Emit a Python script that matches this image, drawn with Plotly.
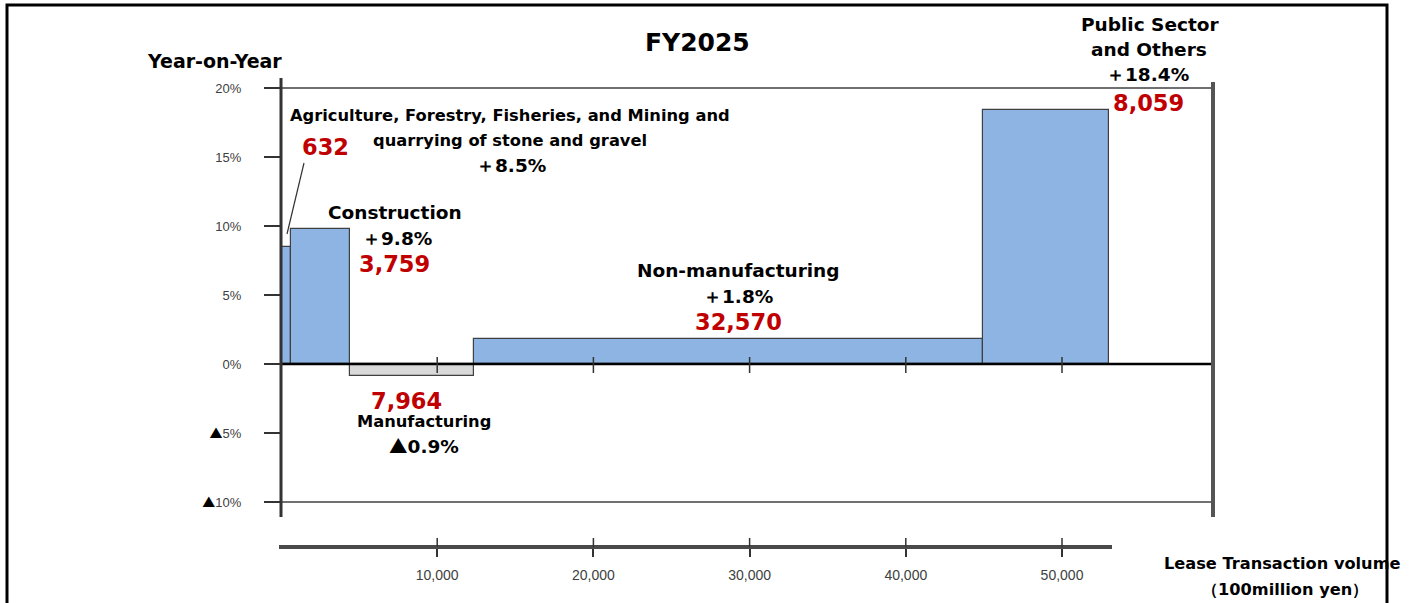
import plotly.graph_objects as go

# ---------------- data ----------------
categories = ["Agriculture, Forestry, Fisheries, and Mining and quarrying of stone and gravel",
              "Construction", "Manufacturing", "Non-manufacturing", "Public Sector and Others"]
volume = [632, 3759, 7964, 32570, 8059]          # 100 million yen
yoy = [8.5, 9.8, -0.9, 1.8, 18.4]                 # %
y_ticks = [20, 15, 10, 5, 0, -5, -10]
y_tick_labels = ["20%", "15%", "10%", "5%", "0%", "▲5%", "▲10%"]
x_ticks = [10000, 20000, 30000, 40000, 50000]
x_tick_labels = ["10,000", "20,000", "30,000", "40,000", "50,000"]

# ---------------- layout geometry (pixels) ----------------
W, H = 1419, 603
L, R, T, B = 281, 1213, 70, 547
Y0PX, PXPER = 364, 13.8          # pixel of 0%, pixels per 1%
XSCALE = 0.01562                 # pixels per unit of volume
yr = [(Y0PX - B) / PXPER, (Y0PX - T) / PXPER]
xr = [0, (R - L) / XSCALE]


def px(x):
    return (x - L) / (R - L)


def py(y):
    return (B - y) / (B - T)


TRI = '<span style="font-family:Noto Sans CJK JP;color:#000000">▲</span>'


def tri(s):
    return s.replace("▲", TRI)


# bar geometry from data
starts = []
acc = 0
for v in volume:
    starts.append(acc)
    acc += v
centers = [s + v / 2 for s, v in zip(starts, volume)]
colors = ["#8DB4E2" if y >= 0 else "#D9D9D9" for y in yoy]

fig = go.Figure()
fig.add_trace(go.Bar(
    x=centers, y=yoy, width=volume, base=0,
    marker=dict(color=colors, line=dict(color="#404040", width=1.2)),
    hoverinfo="skip", showlegend=False,
))

shapes = []
for yv in (y_ticks[0], y_ticks[-1]):
    shapes.append(dict(type="line", xref="paper", yref="y", x0=0, x1=1, y0=yv, y1=yv,
                       line=dict(color="#404040", width=1.5), layer="above"))
shapes.append(dict(type="line", xref="paper", yref="y", x0=0, x1=1, y0=0, y1=0,
                   line=dict(color="#000000", width=2.5), layer="above"))
for xv in x_ticks:
    shapes.append(dict(type="line", xref="x", yref="y", x0=xv, x1=xv,
                       y0=(Y0PX - 357) / PXPER, y1=(Y0PX - 373) / PXPER,
                       line=dict(color="#333333", width=1.5), layer="above"))
shapes.append(dict(type="line", xref="paper", yref="paper", x0=px(281), x1=px(281),
                   y0=py(517), y1=py(78), line=dict(color="#333333", width=3), layer="above"))
shapes.append(dict(type="line", xref="paper", yref="paper", x0=px(1213), x1=px(1213),
                   y0=py(517), y1=py(82), line=dict(color="#555555", width=4), layer="above"))
shapes.append(dict(type="line", xref="paper", yref="paper", x0=px(279), x1=px(1112),
                   y0=0, y1=0, line=dict(color="#4a4a4a", width=4), layer="above"))
for xv in x_ticks:
    shapes.append(dict(type="line", xref="x", yref="paper", x0=xv, x1=xv,
                       y0=0, y1=py(538), line=dict(color="#333333", width=1.5), layer="above"))
shapes.append(dict(type="line", xref="paper", yref="paper", x0=px(304), y0=py(163),
                   x1=px(287), y1=py(234), line=dict(color="#333333", width=1.2)))
shapes.append(dict(type="rect", xref="paper", yref="paper", x0=px(7), x1=px(1387),
                   y0=py(640), y1=py(5), line=dict(color="#000000", width=3), layer="above"))

BF = "DejaVu Sans"
annotations = []


def txt(text, x, y, size, color="#000000", bold=True, xanchor="center"):
    text = tri(text)
    annotations.append(dict(
        text=f"<b>{text}</b>" if bold else text, x=px(x), y=py(y), xref="paper", yref="paper",
        showarrow=False, xanchor=xanchor, yanchor="middle",
        font=dict(family=BF, size=size, color=color)))


RED = "#C00000"
LS = 18.5      # label size
NS = 22.5      # number size


def pct(v):
    return ("＋" if v >= 0 else "▲") + f"{abs(v):.1f}%"


def vol(v):
    return f"{v:,}"


txt("FY2025", 697, 42, 25)
txt("Year-on-Year", 214, 61, 19)

txt("Agriculture, Forestry, Fisheries, and Mining and", 510, 115, 16.3)
txt("quarrying of stone and gravel", 510, 140, 16.3)
txt(pct(yoy[0]), 511, 165, LS)
txt(vol(volume[0]), 325, 147, NS, RED)

txt("Construction", 395, 212, LS)
txt(pct(yoy[1]), 397, 238, LS)
txt(vol(volume[1]), 394, 264, NS, RED)

txt(vol(volume[2]), 406, 401, NS, RED)
txt("Manufacturing", 424, 421, 16.3)
txt(pct(yoy[2]), 424, 445, LS)

txt("Non-manufacturing", 738, 270, LS)
txt(pct(yoy[3]), 738, 296, LS)
txt(vol(volume[3]), 738, 322, NS, RED)

txt("Public Sector", 1150, 24, LS)
txt("and Others", 1149, 49, LS)
txt(pct(yoy[4]), 1147, 75, LS)
txt(vol(volume[4]), 1148, 103, NS, RED)

txt("Lease Transaction volume", 1282, 563, 16.2)
txt("（100million yen）", 1285, 589, 16.2)

fig.update_layout(
    width=W, height=H,
    margin=dict(l=L, r=W - R, t=T, b=H - B, pad=0),
    paper_bgcolor="white", plot_bgcolor="white",
    shapes=shapes, annotations=annotations,
    bargap=0,
    xaxis=dict(range=xr, tickvals=x_ticks, ticktext=x_tick_labels, ticks="outside",
               ticklen=9, tickwidth=1.5, tickcolor="#333333", showline=False,
               showgrid=False, zeroline=False, ticklabelstandoff=6,
               tickfont=dict(family="Liberation Sans", size=14, color="#404040")),
    yaxis=dict(range=yr, tickvals=y_ticks, ticktext=[tri(t) for t in y_tick_labels],
               ticks="outside", ticklen=16, tickwidth=1.5, tickcolor="#333333",
               showline=False, showgrid=False, zeroline=False, ticklabelstandoff=20,
               tickfont=dict(family="Liberation Sans", size=13, color="#404040")),
)

fig.write_html("out.html", config={"displayModeBar": False},
               post_script="document.body.style.margin='0';document.body.style.overflow='hidden';")
